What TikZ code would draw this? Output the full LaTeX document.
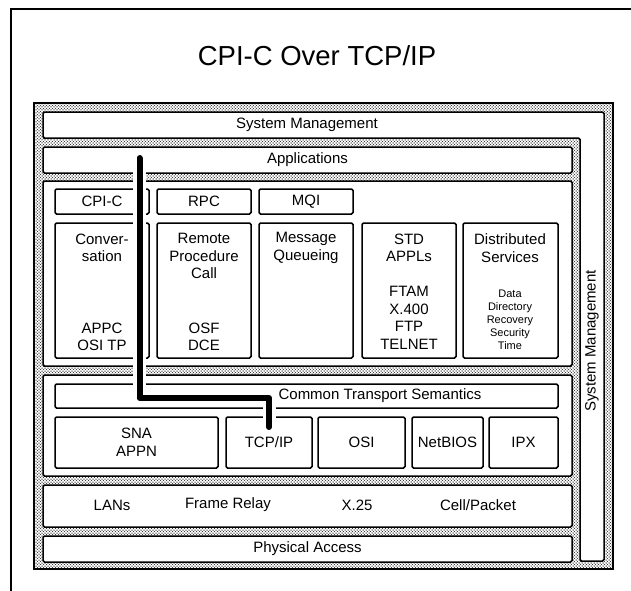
\documentclass[tikz,border=0pt]{standalone}
\usepackage{fontspec}
\setmainfont{Liberation Sans}
\usetikzlibrary{patterns,fit}

% staggered stipple used behind the layer boxes
\pgfdeclarepatternformonly{stipple}{\pgfqpoint{-1pt}{-1pt}}{\pgfqpoint{3pt}{3pt}}{\pgfqpoint{3pt}{3pt}}{%
  \pgfpathcircle{\pgfqpoint{0pt}{0pt}}{0.75pt}%
  \pgfpathcircle{\pgfqpoint{1.5pt}{1.5pt}}{0.6pt}%
  \pgfusepath{fill}}

\tikzset{
  pane/.style={draw, line width=1.5pt, fill=white, rounded corners=1.5pt, inner sep=0pt},
  stack/.style={draw, line width=1.5pt, pattern=stipple, pattern color=black!75, inner sep=0pt},
  txt/.style={font=\fontsize{15}{17.5}\selectfont, align=center, inner sep=0pt},
  smalltxt/.style={font=\fontsize{11}{13}\selectfont, align=center, inner sep=0pt},
  titletxt/.style={font=\fontsize{27.5}{30}\selectfont, inner sep=0pt},
  route/.style={line width=6pt, line cap=round, line join=round},
  halo/.style={route, draw=white, line width=13pt},
}

% a white layer box spanning two corners
\newcommand\layerbox[5]{\node[pane, fit={(#2,#3) (#4,#5)}] (#1) {};}

\begin{document}
\begin{tikzpicture}[x=1pt, y=-1pt]
\useasboundingbox (0,0) rectangle (631,590);
\clip (0,0) rectangle (631,590);

% page frame
\draw[line width=1.6pt] (11,9) rectangle (680,640);

\node[titletxt] (title) at (317,56) {CPI-C Over TCP/IP};

% stippled backdrop of the whole stack
\node[stack, fit={(34,103) (613,569)}] (backdrop) {};

% system management wraps the top and right side
\draw[line width=1.5pt, fill=white, rounded corners=1.5pt]
  (43,112) -- (604,112) -- (604,561) -- (580,561) -- (580,138) -- (43,138) -- cycle;
\node[txt] (sysmtop) at (307,125) {System Management};
\node[txt, rotate=90] (sysmside) at (592,341) {System Management};

% applications
\layerbox{apps}{43}{147}{572}{173}
\node[txt] (appstxt) at (apps) {Applications};

% application services
\layerbox{services}{43}{181}{572}{366}
\layerbox{cpic}{55}{189}{149}{214}
\layerbox{rpc}{157}{189}{251}{214}
\layerbox{mqi}{259}{189}{353}{214}
\node[txt] (cpictxt) at (cpic) {CPI-C};
\node[txt] (rpctxt) at (rpc) {RPC};
\node[txt] (mqitxt) at (mqi) {MQI};

\layerbox{conv}{55}{223}{149}{358}
\layerbox{rproc}{157}{223}{251}{358}
\layerbox{msgq}{259}{223}{353}{358}
\layerbox{stdap}{362}{223}{456}{358}
\layerbox{dist}{463}{223}{558}{358}

\node[txt] (convtop) at (102,248) {Conver-\\sation};
\node[txt] (convbot) at (102,337) {APPC\\OSI TP};
\node[txt] (rproctop) at (204,256) {Remote\\Procedure\\Call};
\node[txt] (rprocbot) at (204,337) {OSF\\DCE};
\node[txt] (msgqtop) at (306,248) {Message\\Queueing};
\node[txt] (stdaptop) at (409,248) {STD\\APPLs};
\node[txt] (stdapbot) at (409,318) {FTAM\\X.400\\FTP\\TELNET};
\node[txt] (disttop) at (510,248) {Distributed\\Services};
\node[smalltxt] (distbot) at (510,320) {Data\\Directory\\Recovery\\Security\\Time};

% transport layer
\layerbox{transport}{43}{375}{572}{476}
\layerbox{cts}{55}{384}{558}{408}
\node[txt] (ctstxt) at (380,396) {Common Transport Semantics};
\layerbox{sna}{55}{417}{218}{468}
\layerbox{tcp}{226}{417}{312}{468}
\layerbox{osi}{318}{417}{405}{468}
\layerbox{netb}{412}{417}{483}{468}
\layerbox{ipx}{489}{417}{558}{468}
\node[txt] (snatxt) at (sna) {SNA\\APPN};
\node[txt] (tcptxt) at (tcp) {TCP/IP};
\node[txt] (ositxt) at (osi) {OSI};
\node[txt] (netbtxt) at (netb) {NetBIOS};
\node[txt] (ipxtxt) at (ipx) {IPX};

% subnetworks
\layerbox{subnet}{43}{485}{572}{527}
\node[txt] (lans) at (112,505) {LANs};
\node[txt] (frame) at (228,505) {Frame Relay};
\node[txt] (x25) at (357,505) {X.25};
\node[txt] (cell) at (478,505) {Cell/Packet};

% physical access
\layerbox{phys}{43}{536}{572}{562}
\node[txt] (phystxt) at (phys) {Physical Access};

% path of a CPI-C call down to TCP/IP
\coordinate (r0) at (139.5,158);
\coordinate (r1) at (139.5,398);
\coordinate (r2) at (269,398);
\coordinate (r3) at (269,427);
\draw[halo] (r0) -- (r1) -- (r2) -- (r3);
\draw[route] (r0) -- (r1) -- (r2) -- (r3);
\end{tikzpicture}
\end{document}
